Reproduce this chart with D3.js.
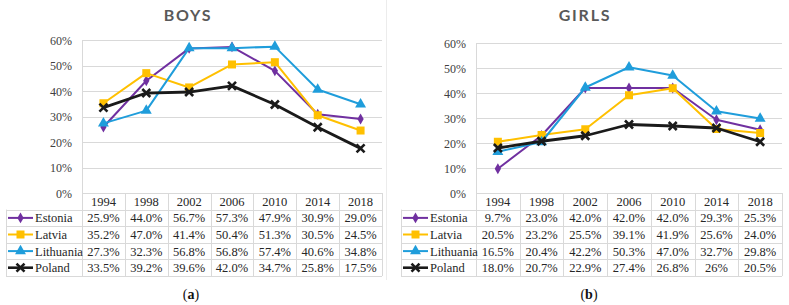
<!DOCTYPE html>
<html>
<head>
<meta charset="utf-8">
<script src="https://cdn.jsdelivr.net/npm/d3@7"></script>
<style>
  html, body { margin: 0; padding: 0; background: #fff; }
  svg { display: block; }
</style>
</head>
<body>
<div id="chart"></div>
<script>
// --- data ---
const years = ['1994', '1998', '2002', '2006', '2010', '2014', '2018'];
const countries = ['Estonia', 'Latvia', 'Lithuania', 'Poland'];
const yTicks = [0, 10, 20, 30, 40, 50, 60];

// values kept as printed in the data table (girls Poland 2014 is printed "26%")
const boysEstonia   = ['25.9', '44.0', '56.7', '57.3', '47.9', '30.9', '29.0'];
const boysLatvia    = ['35.2', '47.0', '41.4', '50.4', '51.3', '30.5', '24.5'];
const boysLithuania = ['27.3', '32.3', '56.8', '56.8', '57.4', '40.6', '34.8'];
const boysPoland    = ['33.5', '39.2', '39.6', '42.0', '34.7', '25.8', '17.5'];

const girlsEstonia   = ['9.7', '23.0', '42.0', '42.0', '42.0', '29.3', '25.3'];
const girlsLatvia    = ['20.5', '23.2', '25.5', '39.1', '41.9', '25.6', '24.0'];
const girlsLithuania = ['16.5', '20.4', '42.2', '50.3', '47.0', '32.7', '29.8'];
const girlsPoland    = ['18.0', '20.7', '22.9', '27.4', '26.8', '26', '20.5'];

const colors = { Estonia: '#7030a0', Latvia: '#ffc000', Lithuania: '#1f9ddb', Poland: '#1a1a1a' };
const markers = { Estonia: 'diamond', Latvia: 'square', Lithuania: 'triangle', Poland: 'cross' };

const W = 789, H = 305;
const SERIF = '"Liberation Serif", "Times New Roman", serif';
const GRID = '#d9d9d9';

const svg = d3.select('#chart').append('svg')
  .attr('width', W).attr('height', H)
  .attr('viewBox', `0 0 ${W} ${H}`);

function drawMarker(g, type, x, y, color) {
  if (type === 'cross') {
    const s = 4;
    g.append('path')
      .attr('d', `M${x - s},${y - s}L${x + s},${y + s}M${x - s},${y + s}L${x + s},${y - s}`)
      .attr('stroke', color).attr('stroke-width', 2.6).attr('fill', 'none');
    return;
  }
  const sym = { diamond: d3.symbolDiamond, square: d3.symbolSquare, triangle: d3.symbolTriangle }[type];
  const size = { diamond: 34, square: 64, triangle: 52 }[type];
  g.append('path')
    .attr('d', d3.symbol().type(sym).size(size)())
    .attr('transform', `translate(${x},${y})`)
    .attr('fill', color);
}

function drawPanel(cfg) {
  const g = svg.append('g');
  const { tableLeft, plotLeft, plotRight, plotTop, plotBottom, series } = cfg;
  const rowH = 16.6;

  const x = d3.scaleBand().domain(years).range([plotLeft, plotRight]);
  const y = d3.scaleLinear().domain([0, 60]).range([plotBottom, plotTop]);
  const cx = (yr) => x(yr) + x.bandwidth() / 2;

  // title
  g.append('text')
    .attr('x', cfg.titleX).attr('y', 21)
    .attr('text-anchor', 'middle')
    .attr('font-family', 'Lato, "Open Sans", sans-serif')
    .attr('font-weight', 'bold').attr('font-size', 16)
    .attr('letter-spacing', 1.8)
    .attr('fill', '#595959')
    .text(cfg.title);

  // gridlines + y labels
  g.append('g').selectAll('line').data(yTicks).join('line')
    .attr('x1', plotLeft).attr('x2', plotRight)
    .attr('y1', (d) => Math.round(y(d)) + 0.5).attr('y2', (d) => Math.round(y(d)) + 0.5)
    .attr('stroke', GRID).attr('stroke-width', 1);

  g.append('g').selectAll('text').data(yTicks).join('text')
    .attr('x', plotLeft - 10).attr('y', (d) => y(d) + 4.5)
    .attr('text-anchor', 'end')
    .attr('font-family', SERIF).attr('font-size', 12).attr('fill', '#404040')
    .text((d) => d + '%');

  // data table grid
  const tableTop = plotBottom;
  const rowY = d3.range(6).map((i) => tableTop + i * rowH);
  const tg = g.append('g').attr('stroke', GRID).attr('stroke-width', 1);
  rowY.slice(1).forEach((ry) => {
    tg.append('line')
      .attr('x1', tableLeft).attr('x2', plotRight)
      .attr('y1', Math.round(ry) + 0.5).attr('y2', Math.round(ry) + 0.5);
  });
  // vertical lines
  tg.append('line')
    .attr('x1', tableLeft + 0.5).attr('x2', tableLeft + 0.5)
    .attr('y1', rowY[1]).attr('y2', rowY[5]);
  tg.append('line')
    .attr('x1', plotLeft + 0.5).attr('x2', plotLeft + 0.5)
    .attr('y1', plotTop).attr('y2', rowY[5]);
  years.forEach((yr) => {
    const xx = Math.round(x(yr) + x.bandwidth()) + 0.5;
    tg.append('line').attr('x1', xx).attr('x2', xx).attr('y1', tableTop).attr('y2', rowY[5]);
  });

  // header years
  g.append('g').selectAll('text').data(years).join('text')
    .attr('x', cx).attr('y', tableTop + rowH / 2 + 4.5)
    .attr('text-anchor', 'middle')
    .attr('font-family', SERIF).attr('font-size', 12.5).attr('fill', '#262626')
    .text((d) => d);

  // rows: legend key + values
  countries.forEach((c, i) => {
    const vals = series[c];
    const mid = rowY[i + 1] + rowH / 2;
    const k0 = tableLeft + 2, k1 = tableLeft + 27;
    g.append('line')
      .attr('x1', k0).attr('x2', k1).attr('y1', mid).attr('y2', mid)
      .attr('stroke', colors[c]).attr('stroke-width', c === 'Poland' ? 2.6 : 2);
    drawMarker(g, markers[c], (k0 + k1) / 2, mid, colors[c]);
    g.append('text')
      .attr('x', k1 + 2).attr('y', mid + 4.5)
      .attr('font-family', SERIF).attr('font-size', 12.5).attr('fill', '#262626')
      .text(c);
    g.append('g').selectAll('text').data(vals).join('text')
      .attr('x', (d, j) => cx(years[j])).attr('y', mid + 4.5)
      .attr('text-anchor', 'middle')
      .attr('font-family', SERIF).attr('font-size', 12.5).attr('fill', '#262626')
      .text((d) => d + '%');
  });

  // lines + markers
  const line = d3.line().x((d) => cx(d.year)).y((d) => y(d.v));
  countries.forEach((c) => {
    const pts = series[c].map((v, j) => ({ year: years[j], v: +v }));
    g.append('path').datum(pts)
      .attr('d', line).attr('fill', 'none')
      .attr('stroke', colors[c]).attr('stroke-width', c === 'Poland' ? 2.8 : 2)
      .attr('stroke-linejoin', 'round');
    const mg = g.append('g');
    pts.forEach((p) => drawMarker(mg, markers[c], cx(p.year), y(p.v), colors[c]));
  });

  // panel label
  const lab = g.append('text')
    .attr('x', cfg.labelX).attr('y', 299)
    .attr('text-anchor', 'middle')
    .attr('font-family', SERIF).attr('font-size', 14).attr('fill', '#111');
  lab.append('tspan').text('(');
  lab.append('tspan').attr('font-weight', 'bold').text(cfg.label);
  lab.append('tspan').text(')');
}

drawPanel({
  title: 'BOYS', titleX: 188, label: 'a', labelX: 191,
  tableLeft: 6, plotLeft: 82, plotRight: 382, plotTop: 40, plotBottom: 193,
  series: { Estonia: boysEstonia, Latvia: boysLatvia, Lithuania: boysLithuania, Poland: boysPoland }
});

drawPanel({
  title: 'GIRLS', titleX: 585, label: 'b', labelX: 589,
  tableLeft: 401, plotLeft: 476, plotRight: 782, plotTop: 43, plotBottom: 193,
  series: { Estonia: girlsEstonia, Latvia: girlsLatvia, Lithuania: girlsLithuania, Poland: girlsPoland }
});

// faint chart-area border between the two panels
svg.append('line')
  .attr('x1', 386.5).attr('x2', 386.5).attr('y1', 0).attr('y2', 280)
  .attr('stroke', '#ececec').attr('stroke-width', 1);
</script>
</body>
</html>
